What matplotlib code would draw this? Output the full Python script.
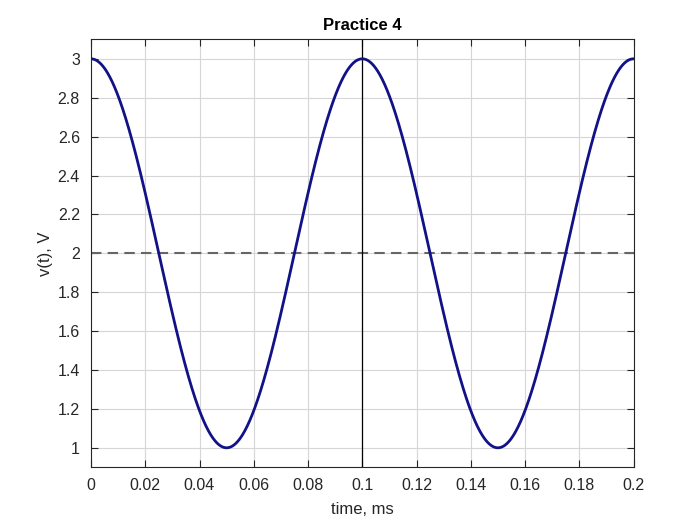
import numpy as np
import matplotlib.pyplot as plt

# signal: v(t) = offset + amp*cos(2*pi*t/period)
offset = 2.0
amp = 1.0
period = 0.1  # ms
t = np.linspace(0, 0.2, 2001)
v = offset + amp * np.cos(2 * np.pi * t / period)

xticks = [0, 0.02, 0.04, 0.06, 0.08, 0.1, 0.12, 0.14, 0.16, 0.18, 0.2]
xticklabels = ['0', '0.02', '0.04', '0.06', '0.08', '0.1', '0.12', '0.14', '0.16', '0.18', '0.2']
yticks = [1, 1.2, 1.4, 1.6, 1.8, 2, 2.2, 2.4, 2.6, 2.8, 3]
yticklabels = ['1', '1.2', '1.4', '1.6', '1.8', '2', '2.2', '2.4', '2.6', '2.8', '3']

plt.rcParams['font.family'] = ['Liberation Sans', 'DejaVu Sans']

fig = plt.figure(figsize=(7, 5.25), dpi=100)
ax = fig.add_axes([0.13, 0.11, 0.775, 0.815])

ax.plot(t, v, color='#121288', lw=2.0, zorder=3)
ax.axhline(offset, color='#666666', ls=(0, (5, 3)), lw=1.5, zorder=2)
ax.axvline(0.1, color='black', lw=0.9, zorder=2)

ax.set_xlim(0, 0.2)
ax.set_ylim(0.9, 3.1)
ax.set_xticks(xticks)
ax.set_xticklabels(xticklabels)
ax.set_yticks(yticks)
ax.set_yticklabels(yticklabels)

ax.grid(True, color='#d6d6d6', lw=0.8)
ax.set_axisbelow(True)
ax.tick_params(direction='in', top=True, right=True, length=5, width=0.8,
               labelsize=11.5, colors='#262626', pad=8)
for s in ax.spines.values():
    s.set_color('#262626')
    s.set_linewidth(0.8)

ax.set_title('Practice 4', fontsize=12, fontweight='bold', pad=7)
ax.set_xlabel('time, ms', fontsize=12, color='#262626', labelpad=6)
ax.set_ylabel('v(t), V', fontsize=12, color='#262626', labelpad=3)

fig.savefig('out.png', dpi=100)
